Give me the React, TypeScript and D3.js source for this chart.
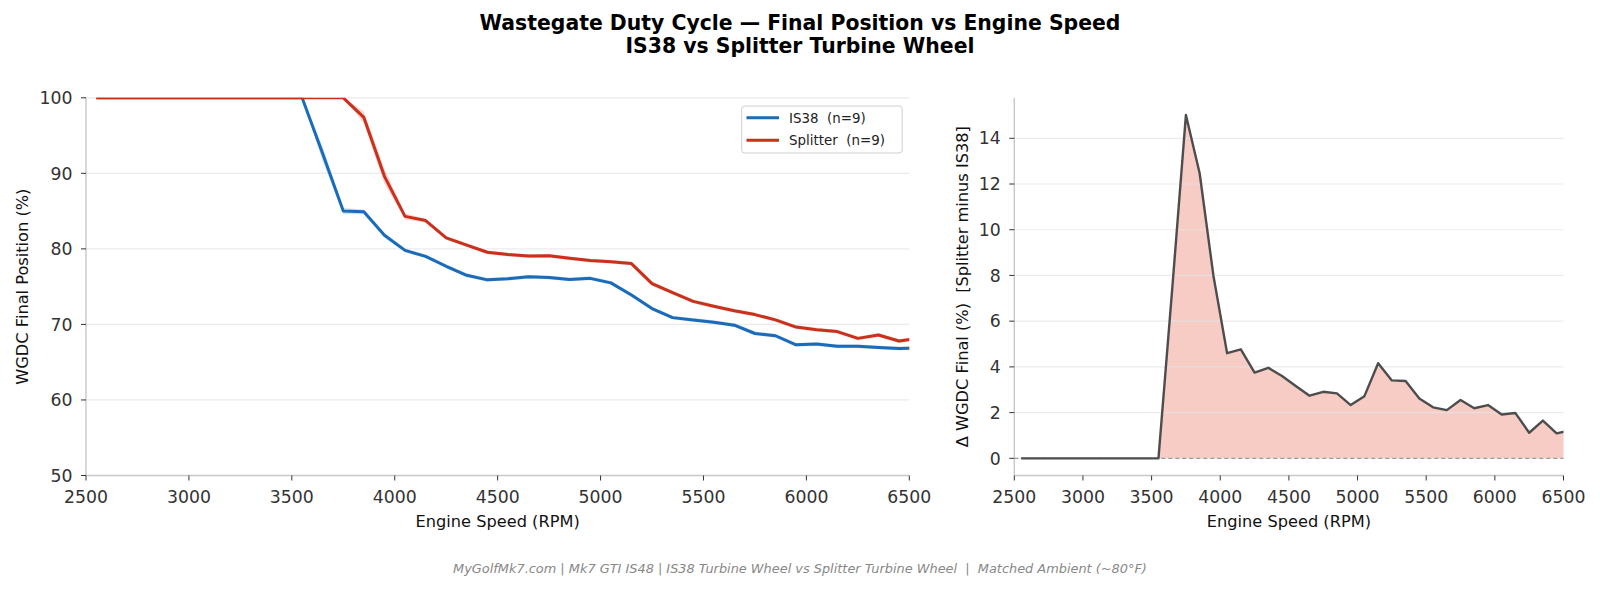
import React from "react";
import * as d3 from "d3";

// ---------- data ----------
const rpm = [
  2550, 2650, 2750, 2850, 2950, 3050, 3150, 3250, 3350, 3450, 3550, 3650, 3750, 3850,
  3950, 4050, 4150, 4250, 4350, 4450, 4550, 4650, 4750, 4850, 4950, 5050, 5150, 5250,
  5350, 5450, 5550, 5650, 5750, 5850, 5950, 6050, 6150, 6250, 6350, 6450, 6550,
];

const is38 = [
  100, 100, 100, 100, 100, 100, 100, 100, 100, 100, 100, 92.6, 85.0, 84.9,
  81.8, 79.8, 79.0, 77.7, 76.5, 75.9, 76.05, 76.3, 76.2, 75.95, 76.1, 75.5, 73.9, 72.1,
  70.9, 70.6, 70.3, 69.9, 68.8, 68.5, 67.3, 67.4, 67.1, 67.1, 66.95, 66.8, 66.9,
];

const splitter = [
  100, 100, 100, 100, 100, 100, 100, 100, 100, 100, 100, 100, 100, 97.4,
  89.6, 84.3, 83.75, 81.45, 80.5, 79.55, 79.25, 79.05, 79.1, 78.75, 78.45, 78.3, 78.05, 75.4,
  74.2, 73.05, 72.4, 71.8, 71.3, 70.6, 69.65, 69.3, 69.05, 68.15, 68.6, 67.8, 68.2,
];

const is38Band = [
  0, 0, 0, 0, 0, 0, 0, 0, 0, 0, 0, 1.0, 0.4, 0.3,
  0.3, 0.25, 0.25, 0.25, 0.25, 0.25, 0.25, 0.25, 0.25, 0.25, 0.25, 0.25, 0.25, 0.25,
  0.25, 0.25, 0.25, 0.25, 0.25, 0.25, 0.25, 0.25, 0.25, 0.25, 0.25, 0.25, 0.25,
];

const splitterBand = [
  0, 0, 0, 0, 0, 0, 0, 0, 0, 0, 0, 0, 0, 0.8,
  1.0, 0.4, 0.25, 0.25, 0.25, 0.25, 0.25, 0.25, 0.25, 0.25, 0.25, 0.25, 0.25, 0.3,
  0.25, 0.25, 0.25, 0.25, 0.25, 0.25, 0.25, 0.25, 0.25, 0.25, 0.25, 0.25, 0.25,
];

const delta = [
  0, 0, 0, 0, 0, 0, 0, 0, 0, 0, 0, 7.4, 15.02, 12.47,
  8.0, 4.6, 4.77, 3.75, 3.96, 3.6, 3.16, 2.74, 2.91, 2.84, 2.33, 2.72, 4.16, 3.41,
  3.38, 2.62, 2.23, 2.11, 2.55, 2.19, 2.33, 1.92, 1.98, 1.12, 1.65, 1.09, 1.23,
];

const xTicks = [2500, 3000, 3500, 4000, 4500, 5000, 5500, 6000, 6500];
const leftYTicks = [50, 60, 70, 80, 90, 100];
const rightYTicks = [0, 2, 4, 6, 8, 10, 12, 14];

const seriesNames = ["IS38  (n=9)", "Splitter  (n=9)"];
const titleLines = [
  "Wastegate Duty Cycle — Final Position vs Engine Speed",
  "IS38 vs Splitter Turbine Wheel",
];
const footer =
  "MyGolfMk7.com | Mk7 GTI IS48 | IS38 Turbine Wheel vs Splitter Turbine Wheel  |  Matched Ambient (~80°F)";

// ---------- styling ----------
const W = 1600;
const H = 590;
const FONT = "DejaVu Sans, Verdana, sans-serif";
const BLUE = "#1a6bb8";
const RED = "#c9311c";
const DELTA_LINE = "#4d4d4d";
const DELTA_FILL = "#e8806f";
const TOP = 97.8;
const BOTTOM = 475.5;
const L = { x0: 86, x1: 909.3 };
const R = { x0: 1014.3, x1: 1563.5 };
const PRE = { whiteSpace: "pre" as const };

export default function App() {
  const xL = d3.scaleLinear().domain([2500, 6500]).range([L.x0, L.x1]);
  const yL = d3.scaleLinear().domain([50, 100]).range([BOTTOM, TOP]);
  const xR = d3.scaleLinear().domain([2500, 6500]).range([R.x0, R.x1]);
  const ext = d3.extent(delta) as [number, number];
  const pad = (ext[1] - ext[0]) * 0.05;
  const yR = d3.scaleLinear().domain([ext[0] - pad, ext[1] + pad]).range([BOTTOM, TOP]);

  const idx = rpm.map((_, i) => i);
  const lineL = (vals: number[]) =>
    d3
      .line<number>()
      .x((i) => xL(rpm[i]))
      .y((i) => yL(vals[i]))(idx) || "";
  const bandL = (vals: number[], band: number[]) =>
    d3
      .area<number>()
      .x((i) => xL(rpm[i]))
      .y0((i) => yL(vals[i] - band[i]))
      .y1((i) => yL(Math.min(100, vals[i] + band[i])))(idx) || "";

  const deltaLine =
    d3
      .line<number>()
      .x((i) => xR(rpm[i]))
      .y((i) => yR(delta[i]))(idx) || "";
  const deltaArea =
    d3
      .area<number>()
      .x((i) => xR(rpm[i]))
      .y0(() => yR(0))
      .y1((i) => yR(delta[i]))(idx) || "";

  const tickColor = "#333";
  const spine = "#c8c8c8";
  const grid = "#e4e4e4";

  const xAxis = (x: d3.ScaleLinear<number, number>, key: string) => (
    <g key={key}>
      <line x1={x.range()[0]} x2={x.range()[1]} y1={BOTTOM} y2={BOTTOM} stroke={spine} strokeWidth={1.4} />
      {xTicks.map((t) => (
        <g key={t}>
          <line x1={x(t)} x2={x(t)} y1={BOTTOM} y2={BOTTOM + 5} stroke={tickColor} strokeWidth={1} />
          <text x={x(t)} y={503} textAnchor="middle" fontSize={17.3} fill={tickColor}>
            {t}
          </text>
        </g>
      ))}
      <text x={(x.range()[0] + x.range()[1]) / 2} y={526.5} textAnchor="middle" fontSize={16.2} fill="#111">
        Engine Speed (RPM)
      </text>
    </g>
  );

  const yAxis = (
    y: d3.ScaleLinear<number, number>,
    x0: number,
    ticks: number[],
    key: string
  ) => (
    <g key={key}>
      <line x1={x0} x2={x0} y1={TOP} y2={BOTTOM} stroke={spine} strokeWidth={1.4} />
      {ticks.map((t) => (
        <g key={t}>
          <line x1={x0 - 5} x2={x0} y1={y(t)} y2={y(t)} stroke={tickColor} strokeWidth={1} />
          <text x={x0 - 13.5} y={y(t) + 6.2} textAnchor="end" fontSize={17.3} fill={tickColor}>
            {t}
          </text>
        </g>
      ))}
    </g>
  );

  const gridLines = (
    y: d3.ScaleLinear<number, number>,
    x0: number,
    x1: number,
    ticks: number[],
    key: string
  ) => (
    <g key={key}>
      {ticks.map((t) => (
        <line key={t} x1={x0} x2={x1} y1={y(t)} y2={y(t)} stroke={grid} strokeOpacity={0.75} strokeWidth={1.2} />
      ))}
    </g>
  );

  return (
    <div style={{ position: "absolute", left: 0, top: 0 }}>
      <svg width={W} height={H} viewBox={`0 0 ${W} ${H}`} style={{ display: "block", fontFamily: FONT }}>
        <defs>
          <clipPath id="clipL">
            <rect x={L.x0} y={TOP} width={L.x1 - L.x0} height={BOTTOM - TOP} />
          </clipPath>
          <clipPath id="clipR">
            <rect x={R.x0} y={TOP} width={R.x1 - R.x0} height={BOTTOM - TOP} />
          </clipPath>
        </defs>
        <rect x={0} y={0} width={W} height={H} fill="#fff" />

        {/* titles */}
        <text x={800} y={29.8} textAnchor="middle" fontSize={20.4} fontWeight="bold" fill="#000">
          {titleLines[0]}
        </text>
        <text x={800} y={53.4} textAnchor="middle" fontSize={20.4} fontWeight="bold" fill="#000">
          {titleLines[1]}
        </text>

        {/* ---- left panel ---- */}
        {gridLines(yL, L.x0, L.x1, leftYTicks.filter((t) => t !== 50), "gl")}
        <g clipPath="url(#clipL)">
          <path d={bandL(is38, is38Band)} fill={BLUE} fillOpacity={0.2} stroke="none" />
          <path d={bandL(splitter, splitterBand)} fill={RED} fillOpacity={0.2} stroke="none" />
          <path d={lineL(is38)} fill="none" stroke={BLUE} strokeWidth={3} strokeLinejoin="round" />
          <path d={lineL(splitter)} fill="none" stroke={RED} strokeWidth={3} strokeLinejoin="round" />
        </g>
        {yAxis(yL, L.x0, leftYTicks, "yl")}
        {xAxis(xL, "xl")}
        <text
          transform={`translate(28.3, ${(TOP + BOTTOM) / 2}) rotate(-90)`}
          textAnchor="middle"
          fontSize={16.2}
          fill="#111"
        >
          WGDC Final Position (%)
        </text>

        {/* legend */}
        <g>
          <rect x={741.7} y={106} width={160.5} height={47} rx={3} fill="#fff" fillOpacity={0.85} stroke="#cfcfcf" strokeWidth={1} />
          {[BLUE, RED].map((c, i) => (
            <g key={c}>
              <line x1={746.5} x2={779} y1={117.7 + i * 22.5} y2={117.7 + i * 22.5} stroke={c} strokeWidth={3} />
              <text x={789} y={117.7 + i * 22.5 + 4.9} fontSize={13.4} fill="#222" style={PRE}>
                {seriesNames[i]}
              </text>
            </g>
          ))}
        </g>

        {/* ---- right panel ---- */}
        <g clipPath="url(#clipR)">
          <path d={deltaArea} fill={DELTA_FILL} fillOpacity={0.4} stroke="none" />
        </g>
        {gridLines(yR, R.x0, R.x1, rightYTicks, "gr")}
        <line x1={R.x0} x2={R.x1} y1={yR(0)} y2={yR(0)} stroke="#9a9a9a" strokeWidth={1.2} strokeDasharray="4,3" />
        <g clipPath="url(#clipR)">
          <path d={deltaLine} fill="none" stroke={DELTA_LINE} strokeWidth={2.4} strokeLinejoin="round" />
        </g>
        {yAxis(yR, R.x0, rightYTicks, "yr")}
        {xAxis(xR, "xr")}
        <text
          transform={`translate(967.5, ${(TOP + BOTTOM) / 2}) rotate(-90)`}
          textAnchor="middle"
          fontSize={16.2}
          fill="#111"
          style={PRE}
        >
          {"Δ WGDC Final (%)  [Splitter minus IS38]"}
        </text>

        {/* footer */}
        <text x={800} y={572.5} textAnchor="middle" fontSize={12.9} fontStyle="italic" fill="#888" style={PRE}>
          {footer}
        </text>
      </svg>
    </div>
  );
}
